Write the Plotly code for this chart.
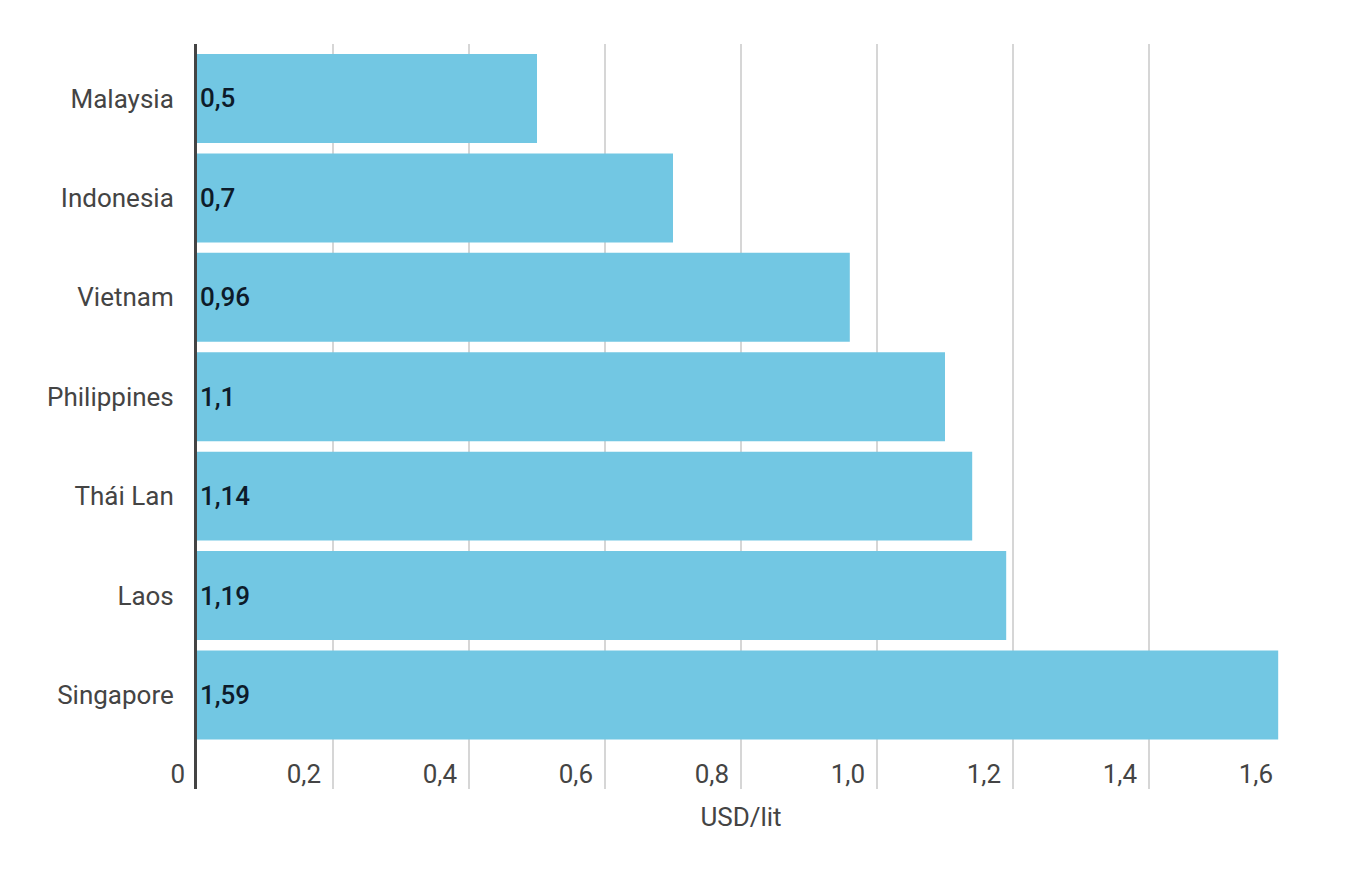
import plotly.graph_objects as go

countries = ["Singapore", "Laos", "Thái Lan", "Philippines", "Vietnam", "Indonesia", "Malaysia"]
prices = [1.59, 1.19, 1.14, 1.1, 0.96, 0.7, 0.5]
tick_vals = [0, 0.2, 0.4, 0.6, 0.8, 1.0, 1.2, 1.4, 1.6]
tick_text = ["0", "0,2", "0,4", "0,6", "0,8", "1,0", "1,2", "1,4", "1,6"]

labels = [("%g" % v).replace(".", ",") for v in prices]

FONT = "Roboto"
GREY = "#444444"

fig = go.Figure(go.Bar(
    x=prices, y=countries, orientation="h",
    marker=dict(color="#72C7E3", line=dict(width=0)),
    text=labels, textposition="inside", insidetextanchor="start",
    textfont=dict(family=FONT, size=26, color="#0d1b2a", weight=500),
    cliponaxis=False, hoverinfo="skip",
))

fig.update_layout(
    width=1346, height=888,
    margin=dict(l=197, r=61, t=44, b=99),
    paper_bgcolor="white", plot_bgcolor="white",
    bargap=0.105, showlegend=False,
    font=dict(family=FONT, size=26, color=GREY),
    uniformtext=dict(mode=False),
)
fig.update_xaxes(
    automargin=False,
    range=[0, 1.6], tickvals=tick_vals, ticktext=tick_text,
    ticklabelposition="inside left", ticklabeloverflow="allow",
    ticklabelshift=-12, ticklabelstandoff=-5,
    tickfont=dict(family=FONT, size=26, color=GREY),
    showgrid=True, gridcolor="#d6d6d6", gridwidth=1.5,
    zeroline=False, showline=False, ticks="",
    title=dict(text="USD/lit", standoff=20, font=dict(family=FONT, size=26, color=GREY)),
)
fig.update_yaxes(
    automargin=False,
    categoryorder="array", categoryarray=countries,
    range=[-0.946, 6.548],
    showline=True, linecolor=GREY, linewidth=3,
    showgrid=False, zeroline=False, ticks="", ticklabelstandoff=15,
    tickfont=dict(family=FONT, size=26, color=GREY),
)

fig.write_html("out.html", config={"displayModeBar": False},
               post_script="document.body.style.margin='0';")
